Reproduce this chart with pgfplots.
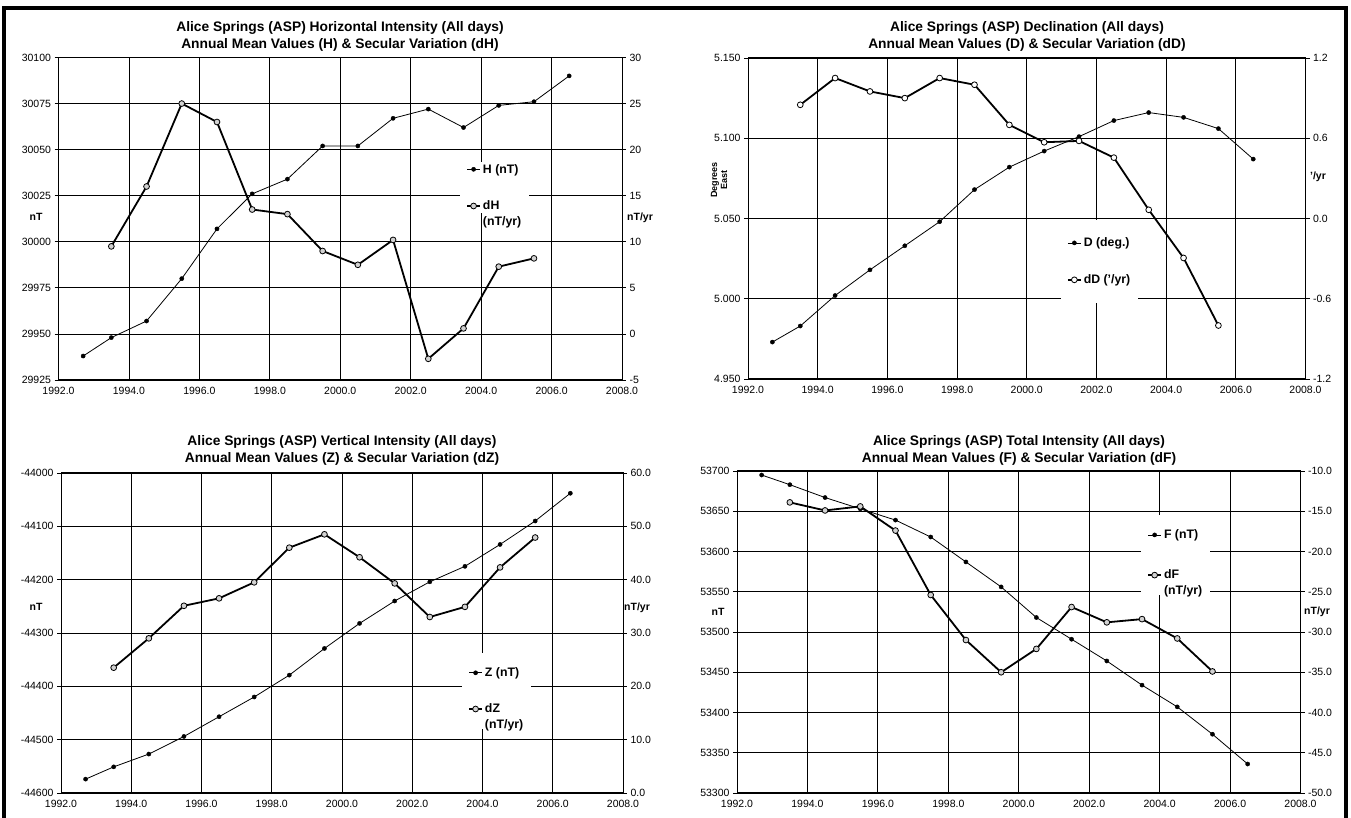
\documentclass[border=0pt]{standalone}
\usepackage{pgfplots}
\pgfplotsset{compat=1.18}
\usepackage{fontspec}
\setmainfont{Liberation Sans}

\pgfplotsset{
  common/.style={
    scale only axis, xmin=1992, xmax=2008,
    scaled ticks=false,
    /pgf/number format/assume math mode=true,
    tick label style={font=\fontsize{10.5}{12}\selectfont},
    tick align=outside, major tick length=4pt,
    axis line style={line width=1pt},
    clip=true,
  },
  primary/.style={common,
    xtick={1992,1994,...,2008},
    xticklabel={\pgfmathprintnumber[fixed,fixed zerofill,precision=1,1000 sep={}]{\tick}},
    xmajorgrids, ymajorgrids, grid style={black, line width=0.8pt},
    ytick pos=left,
    xtick style={draw=none}, ytick style={black, line width=0.8pt},
  },
  secondary/.style={common,
    axis x line=none, axis y line*=right,
    y axis line style={-, line width=1pt},
    ytick style={black, line width=0.8pt},
    legend image code/.code={\draw[mark repeat=2,mark phase=2,##1] plot coordinates {(0pt,3.8pt)(6.5pt,3.8pt)(13pt,3.8pt)};},
    legend style={draw=none, fill=white, anchor=north west,
      font=\bfseries\fontsize{12.3}{16}\selectfont,
      inner xsep=6pt, column sep=0pt,
      cells={anchor=base west}},
  },
  thinser/.style={black, line width=0.8pt, mark=*, mark size=2.1pt, mark options={solid, fill=black, line width=0.4pt}},
  thickser/.style={black, line width=1.8pt, mark=*, mark size=2.9pt, mark options={solid, fill=gray!35, line width=0.8pt}},
  openser/.style={black, line width=1.8pt, mark=*, mark size=2.9pt, mark options={solid, fill=white, line width=0.8pt}},
}

\begin{document}
\begin{tikzpicture}[x=1pt,y=1pt]
\useasboundingbox (0,0) rectangle (1351,818);

% ---------------- Panel 1: H ----------------
\begin{axis}[primary, at={(58.5pt,438pt)}, anchor=south west, width=563.5pt, height=322.5pt,
  ymin=29925, ymax=30100, ytick={29925,29950,...,30100},
  yticklabel={\pgfmathprintnumber[fixed,precision=0,1000 sep={}]{\tick}}]
\addplot[thinser] coordinates {(1992.7,29938) (1993.5,29948) (1994.5,29957) (1995.5,29980) (1996.5,30007) (1997.5,30026) (1998.5,30034) (1999.5,30052) (2000.5,30052) (2001.5,30067) (2002.5,30072) (2003.5,30062) (2004.5,30074) (2005.5,30076) (2006.5,30090)};
\end{axis}
\begin{axis}[secondary, at={(58.5pt,438pt)}, anchor=south west, width=563.5pt, height=322.5pt,
  ymin=-5, ymax=30, ytick={-5,0,...,30},
  yticklabel={\pgfmathprintnumber[fixed,precision=0]{\tick}},
  legend style={at={(0.7125,0.676)}, inner ysep=0pt, row sep=20pt}]
\addlegendimage{thinser}
\addlegendentry{H (nT)}
\addplot[thickser] coordinates {(1993.5,9.5) (1994.5,16.0) (1995.5,25.0) (1996.5,23.0) (1997.5,13.5) (1998.5,13.0) (1999.5,9.0) (2000.5,7.5) (2001.5,10.2) (2002.5,-2.7) (2003.5,0.6) (2004.5,7.3) (2005.5,8.2)};
\addlegendentry{\begin{tabular}[t]{@{}l@{}}dH\\(nT/yr)\end{tabular}}
\end{axis}
\node[font=\bfseries\fontsize{13.8}{17}\selectfont, align=center] at (340,781.5) {Alice Springs (ASP) Horizontal Intensity (All days)\\Annual Mean Values (H) \& Secular Variation (dH)};
\node[font=\bfseries\fontsize{10.5}{12}\selectfont] at (36,601) {nT};
\node[font=\bfseries\fontsize{10.5}{12}\selectfont] at (640,600) {nT/yr};

% ---------------- Panel 2: D ----------------
\begin{axis}[primary, at={(748pt,439pt)}, anchor=south west, width=557.5pt, height=321pt,
  ymin=4.95, ymax=5.15, ytick={4.95,5,5.05,5.1,5.15},
  yticklabel={\pgfmathprintnumber[fixed,fixed zerofill,precision=3]{\tick}}]
\addplot[thinser] coordinates {(1992.7,4.973) (1993.5,4.983) (1994.5,5.002) (1995.5,5.018) (1996.5,5.033) (1997.5,5.048) (1998.5,5.068) (1999.5,5.082) (2000.5,5.092) (2001.5,5.101) (2002.5,5.111) (2003.5,5.116) (2004.5,5.113) (2005.5,5.106) (2006.5,5.087)};
\end{axis}
\begin{axis}[secondary, at={(748pt,439pt)}, anchor=south west, width=557.5pt, height=321pt,
  ymin=-1.2, ymax=1.2, ytick={-1.2,-0.6,0,0.6,1.2},
  yticklabel={\pgfmathprintnumber[fixed,fixed zerofill,precision=1]{\tick}},
  legend style={at={(0.561,0.495)}, inner ysep=15.5pt, row sep=22.5pt}]
\addlegendimage{thinser}
\addlegendentry{D (deg.)}
\addplot[openser] coordinates {(1993.5,0.85) (1994.5,1.05) (1995.5,0.95) (1996.5,0.90) (1997.5,1.05) (1998.5,1.00) (1999.5,0.70) (2000.5,0.57) (2001.5,0.58) (2002.5,0.455) (2003.5,0.065) (2004.5,-0.295) (2005.5,-0.80)};
\addlegendentry{dD ('/yr)}
\end{axis}
\node[font=\bfseries\fontsize{13.8}{17}\selectfont, align=center] at (1027,782) {Alice Springs (ASP) Declination (All days)\\Annual Mean Values (D) \& Secular Variation (dD)};
\node[font=\bfseries\fontsize{9}{10}\selectfont, align=center, rotate=90] at (719,638) {Degrees\\East};
\node[font=\bfseries\fontsize{10.5}{12}\selectfont] at (1318,641) {'/yr};

% ---------------- Panel 3: Z ----------------
\begin{axis}[primary, at={(61pt,25pt)}, anchor=south west, width=562pt, height=320pt,
  ymin=-44600, ymax=-44000, ytick={-44600,-44500,...,-44000},
  yticklabel={\pgfmathprintnumber[fixed,precision=0,1000 sep={}]{\tick}}]
\addplot[thinser] coordinates {(1992.7,-44574) (1993.5,-44551) (1994.5,-44527) (1995.5,-44494) (1996.5,-44457) (1997.5,-44420) (1998.5,-44379) (1999.5,-44329) (2000.5,-44282) (2001.5,-44240) (2002.5,-44204) (2003.5,-44175) (2004.5,-44134) (2005.5,-44090) (2006.5,-44038)};
\end{axis}
\begin{axis}[secondary, at={(61pt,25pt)}, anchor=south west, width=562pt, height=320pt,
  ymin=0, ymax=60, ytick={0,10,...,60},
  yticklabel={\pgfmathprintnumber[fixed,fixed zerofill,precision=1]{\tick}},
  legend style={at={(0.7135,0.4375)}, inner ysep=12.5pt, row sep=19.5pt}]
\addlegendimage{thinser}
\addlegendentry{Z (nT)}
\addplot[thickser] coordinates {(1993.5,23.5) (1994.5,29.0) (1995.5,35.1) (1996.5,36.5) (1997.5,39.5) (1998.5,46.0) (1999.5,48.5) (2000.5,44.2) (2001.5,39.3) (2002.5,33.0) (2003.5,34.9) (2004.5,42.3) (2005.5,47.9)};
\addlegendentry{\begin{tabular}[t]{@{}l@{}}dZ\\(nT/yr)\end{tabular}}
\end{axis}
\node[font=\bfseries\fontsize{13.8}{17}\selectfont, align=center] at (342,368) {Alice Springs (ASP) Vertical Intensity (All days)\\Annual Mean Values (Z) \& Secular Variation (dZ)};
\node[font=\bfseries\fontsize{10.5}{12}\selectfont] at (36,211) {nT};
\node[font=\bfseries\fontsize{10.5}{12}\selectfont] at (637,210) {nT/yr};

% ---------------- Panel 4: F ----------------
\begin{axis}[primary, at={(737pt,25pt)}, anchor=south west, width=563.5pt, height=322pt,
  ymin=53300, ymax=53700, ytick={53300,53350,...,53700},
  yticklabel={\pgfmathprintnumber[fixed,precision=0,1000 sep={}]{\tick}}]
\addplot[thinser] coordinates {(1992.7,53695) (1993.5,53683) (1994.5,53667) (1995.5,53653) (1996.5,53639) (1997.5,53618) (1998.5,53587) (1999.5,53556) (2000.5,53518) (2001.5,53491) (2002.5,53464) (2003.5,53434) (2004.5,53407) (2005.5,53373) (2006.5,53336)};
\end{axis}
\begin{axis}[secondary, at={(737pt,25pt)}, anchor=south west, width=563.5pt, height=322pt,
  ymin=-50, ymax=-10, ytick={-50,-45,...,-10},
  yticklabel={\pgfmathprintnumber[fixed,fixed zerofill,precision=1]{\tick}},
  legend style={at={(0.717,0.863)}, inner ysep=12.5pt, row sep=23.5pt}]
\addlegendimage{thinser}
\addlegendentry{F (nT)}
\addplot[thickser] coordinates {(1993.5,-13.9) (1994.5,-14.9) (1995.5,-14.4) (1996.5,-17.4) (1997.5,-25.4) (1998.5,-31.0) (1999.5,-35.0) (2000.5,-32.1) (2001.5,-26.9) (2002.5,-28.8) (2003.5,-28.4) (2004.5,-30.8) (2005.5,-34.9)};
\addlegendentry{\begin{tabular}[t]{@{}l@{}}dF\\(nT/yr)\end{tabular}}
\end{axis}
\node[font=\bfseries\fontsize{13.8}{17}\selectfont, align=center] at (1019,368) {Alice Springs (ASP) Total Intensity (All days)\\Annual Mean Values (F) \& Secular Variation (dF)};
\node[font=\bfseries\fontsize{10.5}{12}\selectfont] at (718,206) {nT};
\node[font=\bfseries\fontsize{10.5}{12}\selectfont] at (1317,206) {nT/yr};

% outer frame
\draw[line width=3.5pt, line cap=rect] (4,0) -- (4,810) -- (1346,810) -- (1346,0);
\end{tikzpicture}
\end{document}
